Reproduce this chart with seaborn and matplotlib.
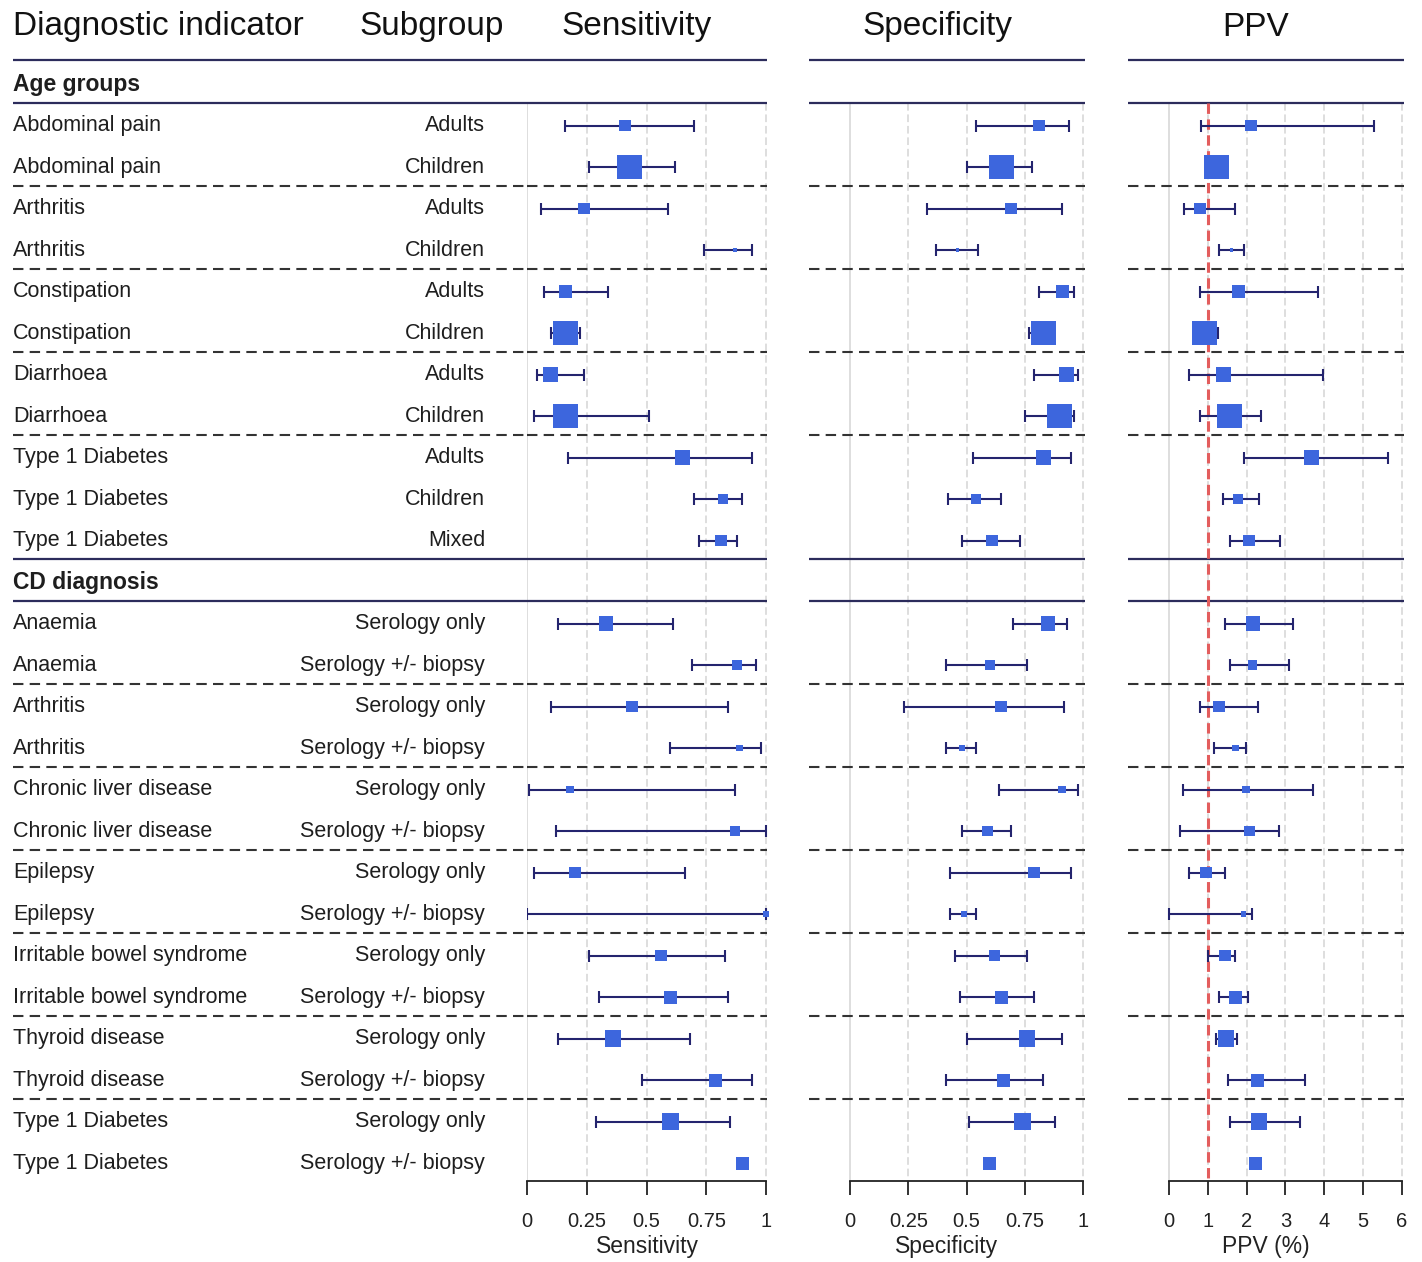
import numpy as np
import pandas as pd
import matplotlib
matplotlib.use("Agg")
import matplotlib.pyplot as plt
import seaborn as sns
from matplotlib.transforms import blended_transform_factory

sns.set_style("white")
plt.rcParams['font.family'] = ['Liberation Sans', 'DejaVu Sans']

# ---------------- data ----------------
sections = ["Age groups"] * 11 + ["CD diagnosis"] * 14
indicators = ["Abdominal pain", "Abdominal pain", "Arthritis", "Arthritis",
              "Constipation", "Constipation", "Diarrhoea", "Diarrhoea",
              "Type 1 Diabetes", "Type 1 Diabetes", "Type 1 Diabetes",
              "Anaemia", "Anaemia", "Arthritis", "Arthritis",
              "Chronic liver disease", "Chronic liver disease",
              "Epilepsy", "Epilepsy",
              "Irritable bowel syndrome", "Irritable bowel syndrome",
              "Thyroid disease", "Thyroid disease",
              "Type 1 Diabetes", "Type 1 Diabetes"]
subgroups = ["Adults", "Children", "Adults", "Children", "Adults", "Children",
             "Adults", "Children", "Adults", "Children", "Mixed"] + \
            ["Serology only", "Serology +/- biopsy"] * 7

sens_est = [0.41, 0.43, 0.24, 0.87, 0.16, 0.16, 0.10, 0.16, 0.65, 0.82, 0.81,
            0.33, 0.88, 0.44, 0.89, 0.18, 0.87, 0.20, 1.00, 0.56, 0.60, 0.36, 0.79, 0.60, 0.90]
sens_lo = [0.16, 0.26, 0.06, 0.74, 0.07, 0.10, 0.04, 0.03, 0.17, 0.70, 0.72,
           0.13, 0.69, 0.10, 0.60, 0.01, 0.12, 0.03, 0.00, 0.26, 0.30, 0.13, 0.48, 0.29, 0.90]
sens_hi = [0.70, 0.62, 0.59, 0.94, 0.34, 0.22, 0.24, 0.51, 0.94, 0.90, 0.88,
           0.61, 0.96, 0.84, 0.98, 0.87, 1.00, 0.66, 1.00, 0.83, 0.84, 0.68, 0.94, 0.85, 0.90]

spec_est = [0.81, 0.65, 0.69, 0.46, 0.91, 0.83, 0.93, 0.90, 0.83, 0.54, 0.61,
            0.85, 0.60, 0.65, 0.48, 0.91, 0.59, 0.79, 0.49, 0.62, 0.65, 0.76, 0.66, 0.74, 0.60]
spec_lo = [0.54, 0.50, 0.33, 0.37, 0.81, 0.77, 0.79, 0.75, 0.53, 0.42, 0.48,
           0.70, 0.41, 0.23, 0.41, 0.64, 0.48, 0.43, 0.43, 0.45, 0.47, 0.50, 0.41, 0.51, 0.60]
spec_hi = [0.94, 0.78, 0.91, 0.55, 0.96, 0.86, 0.98, 0.96, 0.95, 0.65, 0.73,
           0.93, 0.76, 0.92, 0.54, 0.98, 0.69, 0.95, 0.54, 0.76, 0.79, 0.91, 0.83, 0.88, 0.60]

ppv_est = [2.11, 1.22, 0.79, 1.60, 1.78, 0.92, 1.41, 1.55, 3.67, 1.78, 2.05,
           2.17, 2.15, 1.28, 1.71, 1.99, 2.08, 0.95, 1.92, 1.45, 1.71, 1.47, 2.27, 2.31, 2.22]
ppv_lo = [0.83, 1.05, 0.38, 1.29, 0.79, 0.70, 0.51, 0.79, 1.94, 1.40, 1.57,
          1.43, 1.57, 0.79, 1.16, 0.37, 0.28, 0.51, 0.00, 1.01, 1.29, 1.20, 1.52, 1.57, 2.22]
ppv_hi = [5.27, 1.40, 1.71, 1.94, 3.84, 1.25, 3.97, 2.36, 5.63, 2.31, 2.87,
          3.19, 3.09, 2.28, 1.99, 3.70, 2.83, 1.44, 2.14, 1.71, 2.04, 1.76, 3.51, 3.38, 2.22]

# relative study weight (drives square size)
weights = [11, 23, 11, 3, 12, 23, 14, 23, 14, 9, 11,
           13, 9, 11, 6, 7, 10, 11, 5, 11, 12, 15, 12, 15, 12]

sens_ticks = [0, 0.25, 0.5, 0.75, 1]
sens_ticklabels = ["0", "0.25", "0.5", "0.75", "1"]
ppv_ticks = [0, 1, 2, 3, 4, 5, 6]
ppv_ticklabels = ["0", "1", "2", "3", "4", "5", "6"]

# ---------------- layout helpers ----------------
slot = 0
row_slots = []
header_slots = {}
current = None
for sec in sections:
    if sec != current:
        header_slots[sec] = slot
        slot += 1
        current = sec
    row_slots.append(slot)
    slot += 1
row_slots = np.array(row_slots, dtype=float)

df = pd.DataFrame({
    "section": sections, "indicator": indicators, "subgroup": subgroups,
    "slot": row_slots, "weight": weights,
    "sens": sens_est, "sens_lo": sens_lo, "sens_hi": sens_hi,
    "spec": spec_est, "spec_lo": spec_lo, "spec_hi": spec_hi,
    "ppv": ppv_est, "ppv_lo": ppv_lo, "ppv_hi": ppv_hi,
})
# square side in points from weight
df["msize"] = (df["weight"] * 0.78) ** 2

hdr_list = list(header_slots.values())
solid_lines = [hdr_list[0] - 0.58] + [h + 0.45 for h in hdr_list] + [h - 0.55 for h in hdr_list[1:]]
dashed_lines = []
for i in range(len(df) - 1):
    if df.section[i] == df.section[i + 1] and df.indicator[i] != df.indicator[i + 1]:
        dashed_lines.append(df.slot[i] + 0.45)
grid_top = hdr_list[0] + 0.45

W, H = 1422, 1262
fig = plt.figure(figsize=(W / 100, H / 100), dpi=100)

px_row0, px_step = 84, 41.5
ax_top_px, ax_bot_px = 57, 1181
y_top = (ax_top_px - px_row0) / px_step
y_bot = (ax_bot_px - px_row0) / px_step


def make_ax(x0, x1):
    return fig.add_axes([x0 / W, 1 - ax_bot_px / H, (x1 - x0) / W, (ax_bot_px - ax_top_px) / H])


ax_txt = make_ax(13, 527)
ax_sens = make_ax(527, 767)
ax_spec = make_ax(809, 1085)
ax_ppv = make_ax(1128, 1404)

LINE_C = "#2c2c5c"
DASH_C = "#333333"
ERR_C = "#24246e"
SQ_C = "#3d66dd"
GRID_C = "#d4d4d4"
TXT_C = "#1e1e1e"

for ax in [ax_txt, ax_sens, ax_spec, ax_ppv]:
    ax.set_ylim(y_bot, y_top)
    for yl in solid_lines:
        ax.axhline(yl, color=LINE_C, lw=1.6, zorder=2)
    for yl in dashed_lines:
        ax.axhline(yl, color=DASH_C, lw=1.5, ls=(0, (5, 3)), zorder=2)

# text column
ax_txt.set_xlim(0, 1)
ax_txt.axis("off")
trans = blended_transform_factory(ax_txt.transAxes, ax_txt.transData)
for sec, hs in header_slots.items():
    ax_txt.text(0, hs, sec, transform=trans, fontsize=16.5, fontweight="bold",
                va="center", ha="left", color=TXT_C)
for _, r in df.iterrows():
    ax_txt.text(0, r.slot, r.indicator, transform=trans, fontsize=15.5,
                va="center", ha="left", color=TXT_C)
    ax_txt.text((485 - 13) / 514, r.slot, r.subgroup, transform=trans, fontsize=15.5,
                va="center", ha="right", color=TXT_C)

panels = [
    (ax_sens, "sens", (0, 240 / 239), sens_ticks, sens_ticklabels, "Sensitivity"),
    (ax_spec, "spec", (-41 / 233, 235 / 233), sens_ticks, sens_ticklabels, "Specificity"),
    (ax_ppv, "ppv", (-41 / 38.83, 235 / 38.83), ppv_ticks, ppv_ticklabels, "PPV (%)"),
]

for ax, col, xl, ticks, tlabels, xlabel in panels:
    ax.set_xlim(*xl)
    # vertical reference grid
    for t in ticks:
        ax.vlines(t, grid_top, y_bot, color=GRID_C, lw=1.1,
                  ls="-" if t == 0 else (0, (5, 2.5)), zorder=1)
    if col == "ppv":
        ax.vlines(1, grid_top, y_bot, color="#e35d5d", lw=2.2, ls=(0, (3.4, 1.8)), zorder=2.5)
    ci = df[df[col + "_hi"] > df[col + "_lo"]]
    ax.errorbar(ci[col], ci["slot"],
                xerr=[ci[col] - ci[col + "_lo"], ci[col + "_hi"] - ci[col]],
                fmt="none", ecolor=ERR_C, elinewidth=1.5, capsize=4.5, capthick=1.5, zorder=3)
    sns.scatterplot(data=df, x=col, y="slot", size="msize",
                    sizes={v: v for v in df["msize"].unique()},
                    marker="s", color=SQ_C, linewidth=0, legend=False, ax=ax, zorder=4,
                    clip_on=False)
    ax.set_ylim(y_bot, y_top)
    ax.set_xlim(*xl)
    ax.set_yticks([])
    ax.set_ylabel("")
    for s in ["left", "top", "right"]:
        ax.spines[s].set_visible(False)
    ax.spines["bottom"].set_bounds(ticks[0], ticks[-1])
    ax.spines["bottom"].set_color("#222222")
    ax.spines["bottom"].set_linewidth(1.3)
    ax.set_xticks(ticks)
    ax.set_xticklabels(tlabels)
    ax.tick_params(axis="x", direction="out", length=10, width=1.3, color="#222222",
                   pad=12, labelsize=14.5, labelcolor="#222222", bottom=True)
    ax.set_xlabel(xlabel, fontsize=16.5, color="#222222", labelpad=3)

# column headers
hdr_y = 1 - 27 / H
fig.text(13 / W, hdr_y, "Diagnostic indicator", fontsize=24, va="center", ha="left", color="#111111")
fig.text(432 / W, hdr_y, "Subgroup", fontsize=24, va="center", ha="center", color="#111111")
fig.text(637 / W, hdr_y, "Sensitivity", fontsize=24, va="center", ha="center", color="#111111")
fig.text(937 / W, hdr_y, "Specificity", fontsize=24, va="center", ha="center", color="#111111")
fig.text(1256 / W, hdr_y, "PPV", fontsize=24, va="center", ha="center", color="#111111")

fig.savefig("out.png", dpi=100, facecolor="white")
